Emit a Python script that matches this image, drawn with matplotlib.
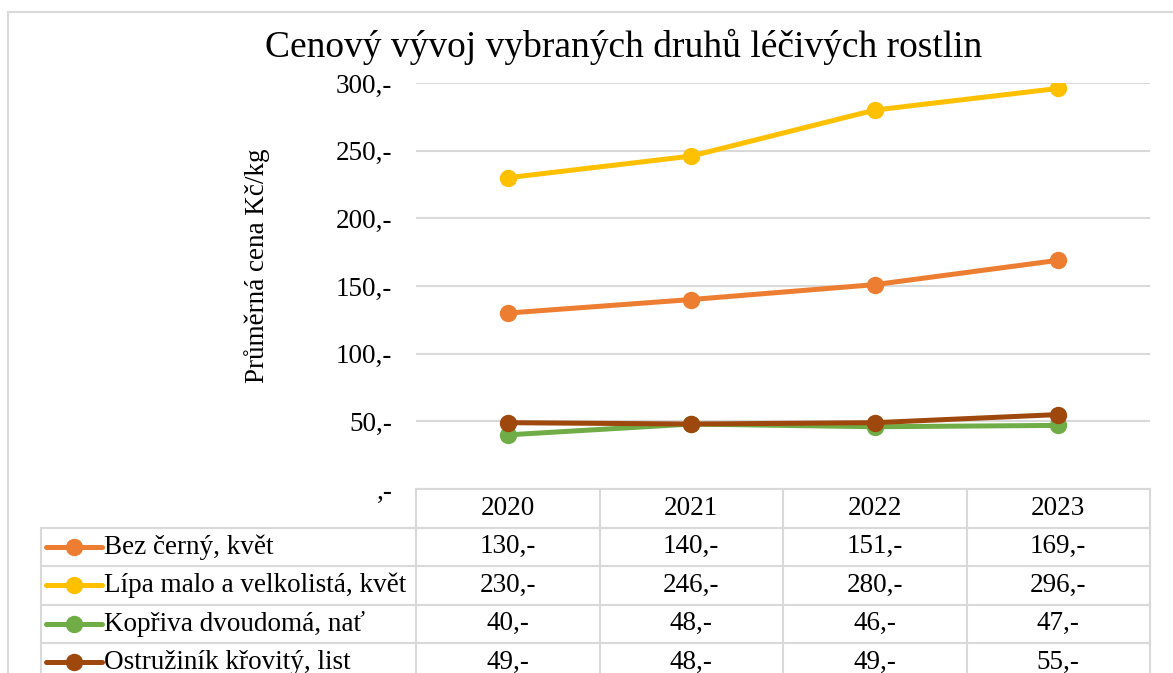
import matplotlib
matplotlib.use("Agg")
import matplotlib.pyplot as plt
from matplotlib.lines import Line2D
from matplotlib.ticker import FuncFormatter
import matplotlib.transforms as mtransforms

plt.rcParams['font.family'] = ['Liberation Serif', 'DejaVu Serif']

# data
roky = ['2020', '2021', '2022', '2023']
nazvy = ['Bez černý, květ', 'Lípa malo a velkolistá, květ',
         'Kopřiva dvoudomá, nať', 'Ostružiník křovitý, list']
bez = [130, 140, 151, 169]
lipa = [230, 246, 280, 296]
kopriva = [40, 48, 46, 47]
ostruzinik = [49, 48, 49, 55]
serie = [bez, lipa, kopriva, ostruzinik]
barvy = ['#ED7D31', '#FFC000', '#70AD47', '#9E480E']

W, H = 1173, 673
fig = plt.figure(figsize=(W / 100, H / 100), dpi=100)

def fx(px):
    return px / W

def fy(py):
    return 1 - py / H

grid_c = '#D9D9D9'
fs = 19.5

ax = fig.add_axes([fx(416), fy(489), fx(1150) - fx(416), fy(83) - fy(489)])
x = list(range(len(roky)))
for hodnoty, c in zip(serie, barvy):
    ax.plot(x, hodnoty, color=c, lw=3.6, marker='o', ms=11.5, zorder=3,
            solid_capstyle='round')

ax.set_xlim(-0.5, len(roky) - 0.5)
ax.set_ylim(0, 300)
ax.set_yticks(range(0, 301, 50))
ax.yaxis.set_major_formatter(FuncFormatter(lambda v, p: (f"{v:.0f}" if v else "") + ",-"))
ax.set_xticks([])
ax.tick_params(axis='y', length=0, pad=17, labelsize=fs)
ax.grid(axis='y', color=grid_c, lw=1.5)
for s in ax.spines.values():
    s.set_visible(False)

# titulek a popisek osy
fig.text(fx(624), fy(47), 'Cenový vývoj vybraných druhů léčivých rostlin',
         ha='center', va='center', fontsize=27)
fig.text(fx(257), fy(266), 'Průměrná cena Kč/kg', rotation=90,
         ha='center', va='center', fontsize=fs)

# tabulka s daty
tr = mtransforms.blended_transform_factory(ax.transData, fig.transFigure)
top = 489
rh = 38.5
n_rows = len(nazvy) + 1
bottom = top + rh * n_rows
lkw = dict(color=grid_c, lw=1.5, clip_on=False)

# horizontalni cary
fig.add_artist(Line2D([fx(416), fx(1150)], [fy(top), fy(top)], transform=fig.transFigure, **lkw))
for i in range(1, n_rows + 1):
    yy = fy(top + rh * i)
    fig.add_artist(Line2D([fx(41), fx(1150)], [yy, yy], transform=fig.transFigure, **lkw))
# svisle cary
fig.add_artist(Line2D([fx(41), fx(41)], [fy(top + rh), fy(bottom)], transform=fig.transFigure, **lkw))
for i in range(len(roky) + 1):
    fig.add_artist(Line2D([i - 0.5, i - 0.5], [fy(top), fy(bottom)], transform=tr, **lkw))

for j, r in enumerate(roky):
    fig.text(j, fy(top + rh * 0.5), r, transform=tr, ha='center', va='center', fontsize=fs)

for i, (nazev, hodnoty, c) in enumerate(zip(nazvy, serie, barvy)):
    yc = fy(top + rh * (i + 1.5))
    fig.add_artist(Line2D([fx(46), fx(74), fx(102)], [yc, yc, yc], transform=fig.transFigure,
                          color=c, lw=3.6, marker='o', ms=11.5, markevery=[1],
                          solid_capstyle='round'))
    fig.text(fx(104), yc, nazev, ha='left', va='center', fontsize=fs)
    for j, v in enumerate(hodnoty):
        fig.text(j, yc, f"{v},-", transform=tr, ha='center', va='center', fontsize=fs)

# ramecek grafu
fig.add_artist(Line2D([fx(8), fx(8)], [fy(12), 0], transform=fig.transFigure, color=grid_c, lw=1.5))
fig.add_artist(Line2D([fx(8), 1], [fy(12), fy(12)], transform=fig.transFigure, color=grid_c, lw=1.5))

fig.savefig('out.png', dpi=100)
